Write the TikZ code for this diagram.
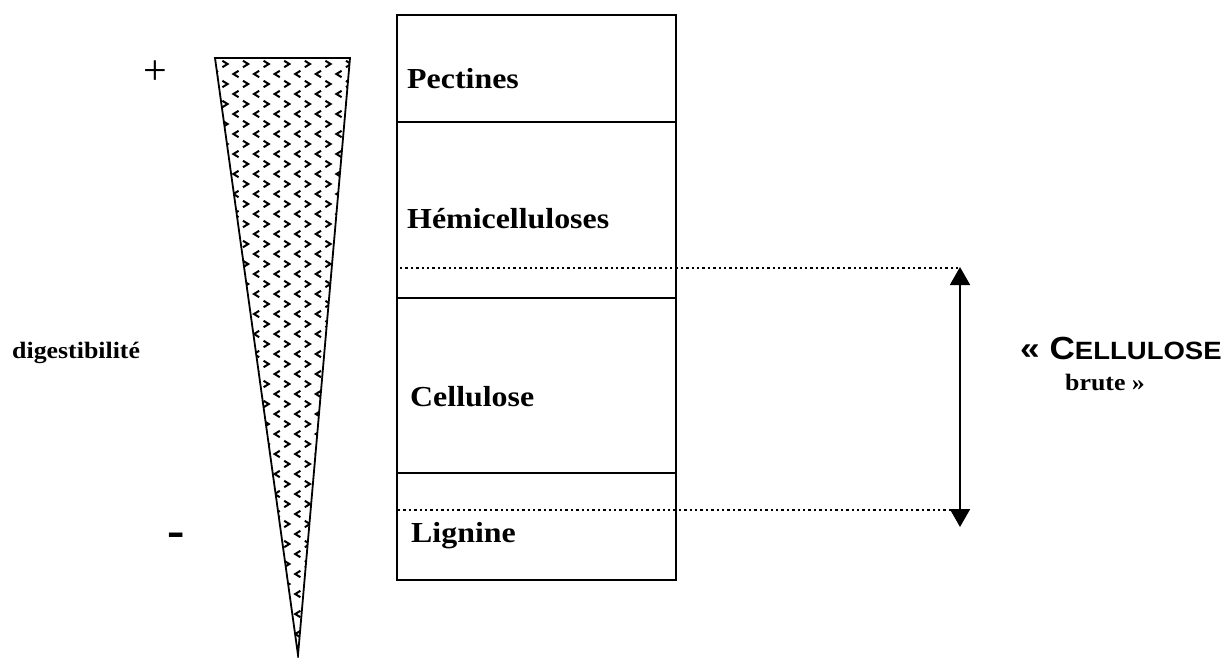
\documentclass[tikz,border=0pt]{standalone}
\usepackage{fontspec}
\setmainfont{Liberation Serif}
\newfontfamily\arialf{Liberation Sans}
\usetikzlibrary{arrows.meta}
\newcommand{\sx}[1]{\scalebox{1.1}[1]{#1}}
\begin{document}
\begin{tikzpicture}[x=1pt,y=-1pt,
  lab/.style={anchor=base west, inner sep=0pt, font=\fontsize{29}{31}\selectfont\bfseries},
  edgeline/.style={line width=1.8pt},
  sepline/.style={line width=1.2pt},
  dotline/.style={line width=2.4pt, dash pattern=on 2.4pt off 3pt},
  chev/.style={line width=2pt, line join=miter},
  dblarrow/.style={line width=1.8pt, {Triangle[length=18pt,width=20pt]}-{Triangle[length=18pt,width=20pt]}}]
\useasboundingbox (0,0) rectangle (1230,657);
% triangle (digestibility wedge)
\coordinate (tl) at (215,58);
\coordinate (tr) at (350,58);
\coordinate (tip) at (298,655);
\begin{scope}
  \clip (tl)--(tr)--(tip)--cycle;
  \foreach \r in {0,...,59}{
    \foreach \k in {-1,...,7}{
      \pgfmathsetmacro\yy{64+10*\r}
      \pgfmathsetmacro\dir{mod(\r,2)==0 ? 1 : -1}
      \pgfmathsetmacro\xx{mod(\r,2)==0 ? 225+20.6*\k : 236+20.6*\k}
      \pgfmathsetmacro\xa{\xx-2.6*\dir}
      \pgfmathsetmacro\xb{\xx+2.6*\dir}
      \pgfmathsetmacro\ya{\yy-3.2}
      \pgfmathsetmacro\yb{\yy+3.2}
      \draw[chev] (\xa,\ya)--(\xb,\yy)--(\xa,\yb);
    }
  }
\end{scope}
\draw[edgeline] (tl)--(tr)--(tip)--cycle;
% plus / minus
\node (plus) at (155,73) {\fontsize{42}{42}\selectfont +};
\node[anchor=base, inner sep=0pt] (minus) at (176,547) {\fontsize{52}{52}\selectfont\bfseries -};
\node[anchor=base west, inner sep=0pt] (dig) at (12,358) {\sx{\fontsize{23.5}{25}\selectfont\bfseries digestibilité}};
% box
\coordinate (bx1) at (397,15);
\coordinate (bx2) at (676,580);
\draw[edgeline] (bx1) rectangle (bx2);
\coordinate (s1a) at (397,122); \coordinate (s1b) at (676,122);
\coordinate (s2a) at (397,298); \coordinate (s2b) at (676,298);
\coordinate (s3a) at (397,473); \coordinate (s3b) at (676,473);
\draw[sepline] (s1a)--(s1b) (s2a)--(s2b) (s3a)--(s3b);
\node[lab] (pec) at (407,88) {\sx{Pectines}};
\node[lab] (hem) at (407,228) {\sx{Hémicelluloses}};
\node[lab] (cel) at (410,406) {\sx{Cellulose}};
\node[lab] (lig) at (411,542) {\sx{Lignine}};
% dotted lines and arrow
\coordinate (d1a) at (400,268); \coordinate (d1b) at (958,268);
\coordinate (d2a) at (398,510); \coordinate (d2b) at (958,510);
\draw[dotline] (d1a)--(d1b);
\draw[dotline] (d2a)--(d2b);
\coordinate (atop) at (960,267);
\coordinate (abot) at (960,527);
\draw[dblarrow] (atop)--(abot);
\node[anchor=base west, inner sep=0pt] (cb) at (1020,359) {\sx{\arialf\bfseries\fontsize{32}{34}\selectfont « C\fontsize{25}{27}\selectfont ELLULOSE}};
\node[anchor=base west, inner sep=0pt] (br) at (1065,390) {\sx{\fontsize{23.5}{25}\selectfont\bfseries brute »}};
\end{tikzpicture}
\end{document}
